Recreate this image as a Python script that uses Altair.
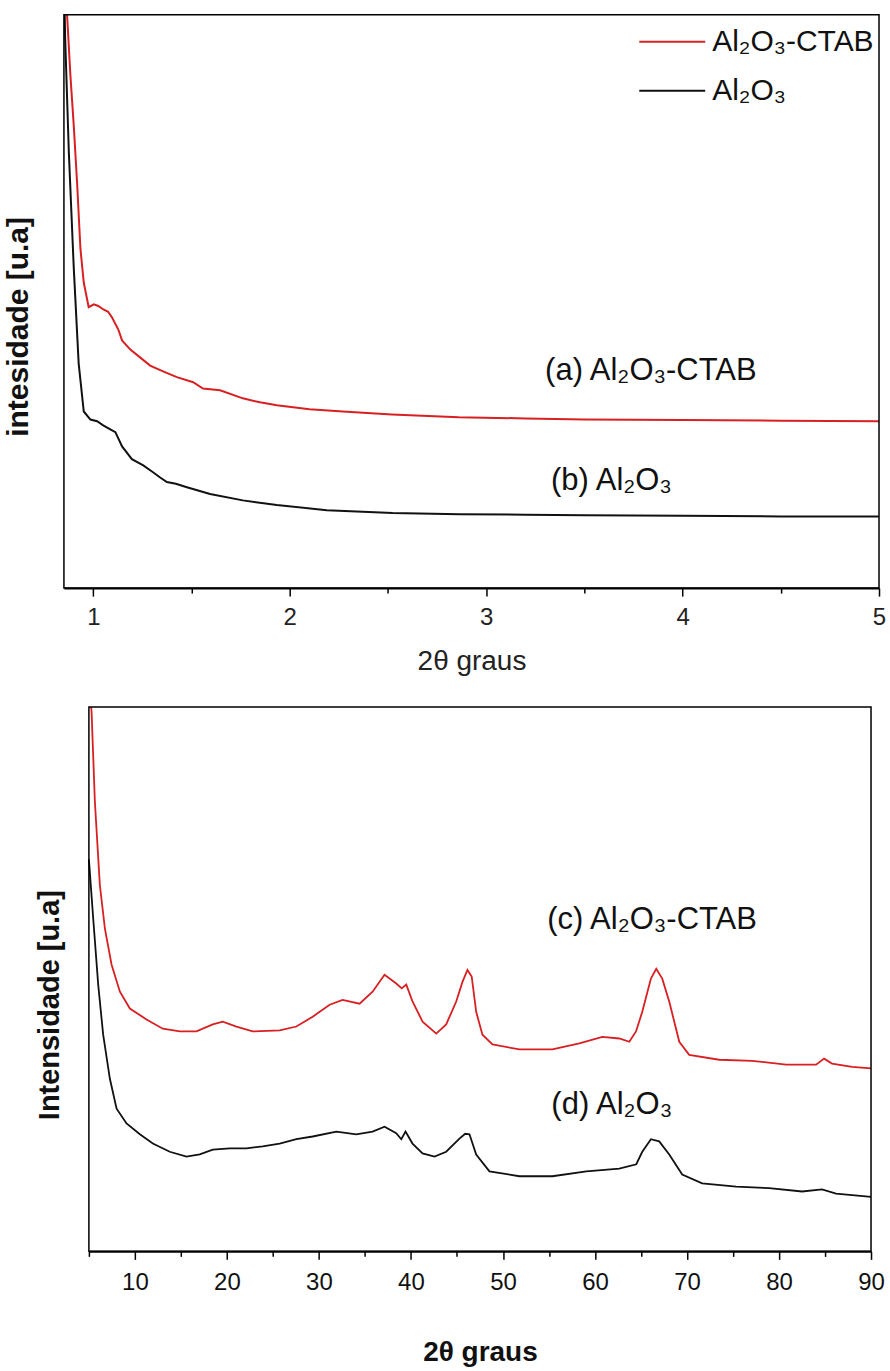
import altair as alt
import pandas as pd

# ---------------- data ----------------
SERIES = ["Al₂O₃-CTAB", "Al₂O₃"]

# top panel: low-angle XRD, 2θ from 0.85 to 5
xa = [0.858, 0.866, 0.883, 0.900, 0.917, 0.934, 0.951, 0.976, 1.002, 1.025, 1.051,
      1.075, 1.095, 1.127, 1.146, 1.188, 1.239, 1.289, 1.355, 1.425, 1.508, 1.558,
      1.645, 1.761, 1.848, 1.934, 2.10, 2.27, 2.52, 2.86, 3.2, 3.5, 4.0, 4.5, 5.0]
ya = [106, 100, 89.4, 80.7, 70.7, 59.2, 53.3, 49.0, 49.5, 49.2, 48.6,
      48.2, 47.2, 45.1, 43.2, 41.6, 40.2, 38.8, 37.8, 36.8, 35.9, 34.8,
      34.5, 33.1, 32.4, 31.9, 31.2, 30.8, 30.3, 29.8, 29.6, 29.4, 29.3, 29.2, 29.1]

xb = [0.852, 0.856, 0.875, 0.900, 0.925, 0.951, 0.985, 1.019, 1.05, 1.086, 1.112,
      1.146, 1.196, 1.254, 1.30, 1.340, 1.374, 1.42, 1.476, 1.594, 1.761, 1.934,
      2.188, 2.523, 2.863, 3.2, 3.5, 4.0, 4.5, 5.0]
yb = [104, 96.2, 76.0, 55.9, 39.2, 30.8, 29.4, 29.1, 28.4, 27.7, 27.2,
      24.7, 22.5, 21.4, 20.3, 19.3, 18.5, 18.2, 17.6, 16.4, 15.3, 14.5,
      13.6, 13.1, 12.9, 12.8, 12.7, 12.6, 12.5, 12.5]

# bottom panel: wide-angle XRD, 2θ from 5 to 90
xc = [5.05, 5.29, 5.65, 6.19, 6.74, 7.46, 8.37, 9.45, 11.26, 13.03, 14.88, 16.69,
      18.46, 19.55, 21.03, 22.80, 25.73, 27.55, 29.32, 31.16, 32.57, 34.42, 35.83,
      37.13, 38.40, 39.0, 39.49, 40.17, 41.26, 42.75, 43.83, 44.92, 45.6, 46.14,
      46.6, 47.09, 47.77, 48.86, 51.79, 55.37, 58.30, 60.80, 62.64, 63.73, 64.46,
      65.14, 66.08, 66.66, 67.31, 68.07, 69.16, 70.24, 73.50, 77.08, 80.77, 84.03,
      84.90, 85.76, 87.94, 90.0]
yc = [104, 99.1, 82.6, 67.3, 59.3, 52.7, 47.7, 44.6, 42.6, 40.9, 40.4, 40.4,
      41.7, 42.2, 41.3, 40.4, 40.6, 41.3, 43.1, 45.3, 46.2, 45.5, 47.7,
      50.8, 49.2, 48.3, 49.0, 45.9, 42.2, 40.0, 41.7, 45.9, 49.5, 51.7,
      50.5, 44.0, 39.8, 38.0, 37.1, 37.1, 38.2, 39.4, 39.1, 38.5, 40.4,
      44.0, 50.1, 51.9, 50.1, 45.9, 38.5, 36.1, 35.2, 35.0, 34.3, 34.3,
      35.4, 34.5, 33.9, 33.6]

xd = [5.0, 5.47, 6.01, 6.55, 7.28, 8.01, 9.09, 10.54, 11.95, 13.79, 15.61, 17.05,
      18.46, 20.31, 22.12, 23.89, 25.73, 27.55, 29.32, 31.89, 34.06, 35.83, 37.13,
      38.40, 38.95, 39.41, 40.17, 41.26, 42.56, 43.83, 45.27, 45.9, 46.36, 47.09,
      48.53, 51.79, 55.37, 59.06, 62.64, 64.49, 65.14, 66.08, 66.98, 68.07, 69.48,
      71.65, 75.34, 78.93, 82.51, 84.68, 86.20, 90.0]
yd = [72, 61.1, 49.0, 39.8, 31.7, 26.2, 23.5, 21.5, 19.8, 18.3, 17.4, 17.8,
      18.7, 18.9, 18.9, 19.3, 19.8, 20.6, 21.1, 22.0, 21.5, 22.0, 22.9,
      21.7, 20.6, 22.0, 19.8, 18.0, 17.4, 18.3, 20.7, 21.6, 21.5, 17.8,
      14.7, 13.8, 13.8, 14.7, 15.2, 16.0, 18.3, 20.6, 20.2, 17.8, 14.1,
      12.5, 11.9, 11.6, 11.0, 11.4, 10.6, 10.0]

top_ticks = [1, 1.5, 2, 2.5, 3, 3.5, 4, 4.5, 5]
bottom_ticks = [5, 10, 15, 20, 25, 30, 35, 40, 45, 50, 55, 60, 65, 70, 75, 80, 85, 90]

top_labels = ["(a) Al₂O₃-CTAB", "(b) Al₂O₃"]
top_label_x = [3.30, 3.33]
top_label_y = [37.8, 18.6]
bottom_labels = ["(c) Al₂O₃-CTAB", "(d) Al₂O₃"]
bottom_label_x = [54.8, 55.26]
bottom_label_y = [60.9, 26.8]

# ---------------- styling ----------------
RED = "#d81f22"
BLACK = "#111111"
NARROW = "Liberation Sans Narrow, Arial Narrow, Liberation Sans, Arial, sans-serif"
SANS = "Liberation Sans, Arial, sans-serif"

color_scale = alt.Scale(domain=SERIES, range=[RED, BLACK])

top_df = pd.concat([
    pd.DataFrame({"x": xa, "y": ya, "serie": SERIES[0]}),
    pd.DataFrame({"x": xb, "y": yb, "serie": SERIES[1]}),
])
bot_df = pd.concat([
    pd.DataFrame({"x": xc, "y": yc, "serie": SERIES[0]}),
    pd.DataFrame({"x": xd, "y": yd, "serie": SERIES[1]}),
])
top_ann = pd.DataFrame({"x": top_label_x, "y": top_label_y, "label": top_labels})
bot_ann = pd.DataFrame({"x": bottom_label_x, "y": bottom_label_y, "label": bottom_labels})
top_frame = pd.DataFrame({"x": [0.85], "xe": [5.0], "y": [0.0], "ye": [100.0]})
bot_frame = pd.DataFrame({"x": [5.0], "xe": [90.0], "y": [0.0], "ye": [100.0]})


def frame_layer(df):
    return alt.Chart(df).mark_rect(
        fill="transparent", stroke="black", strokeWidth=1.5
    ).encode(
        x=alt.X("x:Q"), x2=alt.X2("xe"), y=alt.Y("y:Q"), y2=alt.Y2("ye")
    )


# ---------------- top panel ----------------
top_x = alt.X(
    "x:Q",
    scale=alt.Scale(domain=[0.85, 5], nice=False, zero=False),
    axis=alt.Axis(
        values=top_ticks,
        labelExpr="datum.value % 1 === 0 ? format(datum.value, 'd') : ''",
        tickSize=alt.condition("datum.value % 1 === 0", alt.value(8), alt.value(5)),
        tickColor="black", tickWidth=1.5,
        domainColor="black", domainWidth=2,
        labelFont=NARROW, labelFontSize=24, labelColor="#222",
        labelPadding=9, labelFlush=False,
        title="2θ graus", titleFont=NARROW, titleFontSize=28,
        titleFontWeight="normal", titleColor="#222", titlePadding=18,
        grid=False,
    ),
)
top_y = alt.Y(
    "y:Q",
    scale=alt.Scale(domain=[0, 100], nice=False),
    axis=alt.Axis(
        domain=False, ticks=False, labels=False, grid=False,
        title="intesidade [u.a]", titleFont=SANS, titleFontSize=30,
        titleFontWeight="bold", titleColor="#111",
        titleAngle=270, titleBaseline="bottom", titleAlign="center",
        titleX=-30, titleY=312,
    ),
)

top_lines = alt.Chart(top_df).mark_line(strokeWidth=2, clip=True).encode(
    x=top_x,
    y=top_y,
    color=alt.Color(
        "serie:N", scale=color_scale, sort=SERIES,
        legend=alt.Legend(
            title=None, orient="none", legendX=575, legendY=-7,
            symbolType="stroke", symbolSize=4356, symbolStrokeWidth=2,
            labelFont=SANS, labelFontSize=30, labelColor="#111",
            labelLimit=400, rowPadding=0, labelOffset=6,
        ),
    ),
)
top_text = alt.Chart(top_ann).mark_text(
    align="left", baseline="middle", font=SANS, fontSize=31, color="#111"
).encode(x="x:Q", y="y:Q", text="label:N")

top = alt.layer(top_lines, frame_layer(top_frame), top_text).properties(width=816, height=574)

# ---------------- bottom panel ----------------
bot_x = alt.X(
    "x:Q",
    scale=alt.Scale(domain=[5, 90], nice=False, zero=False, range=[25, 808]),
    axis=alt.Axis(
        values=bottom_ticks,
        labelExpr="datum.value % 10 === 0 ? format(datum.value, 'd') : ''",
        tickSize=alt.condition("datum.value % 10 === 0", alt.value(8), alt.value(5)),
        tickColor="black", tickWidth=1.5,
        domainColor="black", domainWidth=2,
        labelFont=NARROW, labelFontSize=24, labelColor="#111",
        labelPadding=11, labelFlush=False,
        title="2θ graus", titleFont=NARROW, titleFontSize=28,
        titleFontWeight="bold", titleColor="#111", titlePadding=44,
        grid=False,
    ),
)
bot_y = alt.Y(
    "y:Q",
    scale=alt.Scale(domain=[0, 100], nice=False),
    axis=alt.Axis(
        domain=False, ticks=False, labels=False, grid=False,
        title="Intensidade [u.a]", titleFont=SANS, titleFontSize=29,
        titleFontWeight="bold", titleColor="#111",
        titleAngle=270, titleBaseline="bottom", titleAlign="center",
        titleX=1, titleY=298,
    ),
)

bot_lines = alt.Chart(bot_df).mark_line(strokeWidth=1.8, clip=True).encode(
    x=bot_x,
    y=bot_y,
    color=alt.Color("serie:N", scale=color_scale, legend=None),
)
bot_text = alt.Chart(bot_ann).mark_text(
    align="left", baseline="middle", font=SANS, fontSize=31, color="#111"
).encode(x="x:Q", y="y:Q", text="label:N")

bottom = alt.layer(bot_lines, frame_layer(bot_frame), bot_text).properties(width=808, height=545)

chart = alt.vconcat(top, bottom, spacing=31).resolve_scale(color="shared").properties(
    padding={"left": 4, "top": 7, "right": 4, "bottom": 0},
    background="white",
).configure_view(stroke="transparent", strokeWidth=0)

chart.save("out.html", embed_options={"renderer": "svg", "actions": False})
